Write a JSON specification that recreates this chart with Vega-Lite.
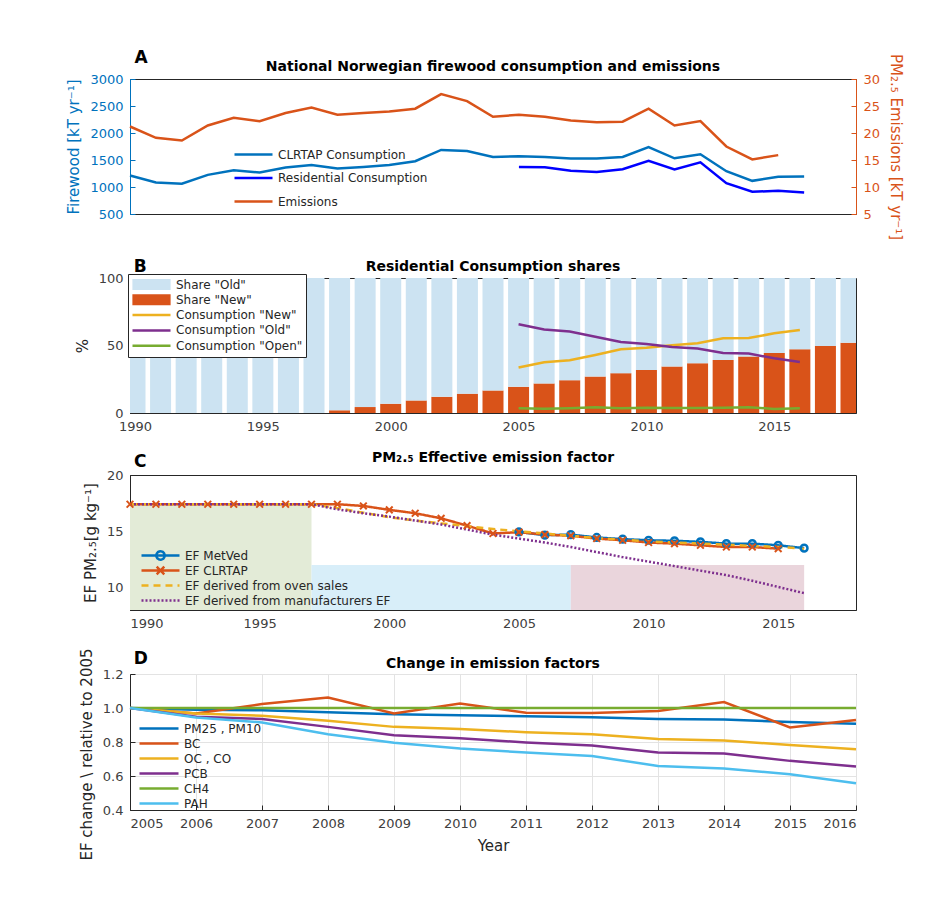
{
  "$schema": "https://vega.github.io/schema/vega-lite/v6.json",
  "background": "white",
  "padding": {"left": 66, "top": 48, "right": 16, "bottom": 10},
  "spacing": 16,
  "config": {
    "font": "DejaVu Sans",
    "view": {"stroke": "#262626", "strokeWidth": 1},
    "axis": {"labelFont": "DejaVu Sans", "labelFontSize": 13, "labelColor": "#404040", "titleFont": "DejaVu Sans", "titleFontSize": 15, "titleFontWeight": "normal", "titleColor": "#262626", "domainColor": "#262626", "tickColor": "#262626", "grid": false, "tickSize": -5, "labelPadding": 12, "titlePadding": 8},
    "title": {"font": "DejaVu Sans", "fontSize": 14, "fontWeight": "bold", "color": "#000000", "offset": 5},
    "legend": {"labelFont": "DejaVu Sans", "labelFontSize": 12, "labelColor": "#262626", "symbolType": "stroke", "symbolStrokeWidth": 2.5, "labelLimit": 400, "clipHeight": 15}
  },
  "datasets": {
    "A_fw": [
      {"year": 1990, "series": "CLRTAP Consumption", "value": 1213},
      {"year": 1991, "series": "CLRTAP Consumption", "value": 1084},
      {"year": 1992, "series": "CLRTAP Consumption", "value": 1062},
      {"year": 1993, "series": "CLRTAP Consumption", "value": 1225},
      {"year": 1994, "series": "CLRTAP Consumption", "value": 1311},
      {"year": 1995, "series": "CLRTAP Consumption", "value": 1268},
      {"year": 1996, "series": "CLRTAP Consumption", "value": 1360},
      {"year": 1997, "series": "CLRTAP Consumption", "value": 1409},
      {"year": 1998, "series": "CLRTAP Consumption", "value": 1342},
      {"year": 1999, "series": "CLRTAP Consumption", "value": 1372},
      {"year": 2000, "series": "CLRTAP Consumption", "value": 1409},
      {"year": 2001, "series": "CLRTAP Consumption", "value": 1477},
      {"year": 2002, "series": "CLRTAP Consumption", "value": 1686},
      {"year": 2003, "series": "CLRTAP Consumption", "value": 1667},
      {"year": 2004, "series": "CLRTAP Consumption", "value": 1557},
      {"year": 2005, "series": "CLRTAP Consumption", "value": 1569},
      {"year": 2006, "series": "CLRTAP Consumption", "value": 1557},
      {"year": 2007, "series": "CLRTAP Consumption", "value": 1526},
      {"year": 2008, "series": "CLRTAP Consumption", "value": 1526},
      {"year": 2009, "series": "CLRTAP Consumption", "value": 1557},
      {"year": 2010, "series": "CLRTAP Consumption", "value": 1741},
      {"year": 2011, "series": "CLRTAP Consumption", "value": 1532},
      {"year": 2012, "series": "CLRTAP Consumption", "value": 1606},
      {"year": 2013, "series": "CLRTAP Consumption", "value": 1292},
      {"year": 2014, "series": "CLRTAP Consumption", "value": 1114},
      {"year": 2015, "series": "CLRTAP Consumption", "value": 1188},
      {"year": 2016, "series": "CLRTAP Consumption", "value": 1196},
      {"year": 2005, "series": "Residential Consumption", "value": 1372},
      {"year": 2006, "series": "Residential Consumption", "value": 1366},
      {"year": 2007, "series": "Residential Consumption", "value": 1299},
      {"year": 2008, "series": "Residential Consumption", "value": 1280},
      {"year": 2009, "series": "Residential Consumption", "value": 1329},
      {"year": 2010, "series": "Residential Consumption", "value": 1483},
      {"year": 2011, "series": "Residential Consumption", "value": 1323},
      {"year": 2012, "series": "Residential Consumption", "value": 1458},
      {"year": 2013, "series": "Residential Consumption", "value": 1071},
      {"year": 2014, "series": "Residential Consumption", "value": 912},
      {"year": 2015, "series": "Residential Consumption", "value": 930},
      {"year": 2016, "series": "Residential Consumption", "value": 900}
    ],
    "A_em": [
      {"year": 1990, "series": "Emissions", "value": 21.2},
      {"year": 1991, "series": "Emissions", "value": 19.1},
      {"year": 1992, "series": "Emissions", "value": 18.6},
      {"year": 1993, "series": "Emissions", "value": 21.4},
      {"year": 1994, "series": "Emissions", "value": 22.8},
      {"year": 1995, "series": "Emissions", "value": 22.2},
      {"year": 1996, "series": "Emissions", "value": 23.7},
      {"year": 1997, "series": "Emissions", "value": 24.7},
      {"year": 1998, "series": "Emissions", "value": 23.4},
      {"year": 1999, "series": "Emissions", "value": 23.7},
      {"year": 2000, "series": "Emissions", "value": 24.0},
      {"year": 2001, "series": "Emissions", "value": 24.5},
      {"year": 2002, "series": "Emissions", "value": 27.2},
      {"year": 2003, "series": "Emissions", "value": 25.9},
      {"year": 2004, "series": "Emissions", "value": 23.0},
      {"year": 2005, "series": "Emissions", "value": 23.4},
      {"year": 2006, "series": "Emissions", "value": 23.0},
      {"year": 2007, "series": "Emissions", "value": 22.3},
      {"year": 2008, "series": "Emissions", "value": 22.0},
      {"year": 2009, "series": "Emissions", "value": 22.1},
      {"year": 2010, "series": "Emissions", "value": 24.5},
      {"year": 2011, "series": "Emissions", "value": 21.4},
      {"year": 2012, "series": "Emissions", "value": 22.2},
      {"year": 2013, "series": "Emissions", "value": 17.5},
      {"year": 2014, "series": "Emissions", "value": 15.1},
      {"year": 2015, "series": "Emissions", "value": 15.9}
    ],
    "B_bar": [
      {"year": 1990, "series": "Share \"New\"", "pct": 0}, {"year": 1990, "series": "Share \"Old\"", "pct": 100},
      {"year": 1991, "series": "Share \"New\"", "pct": 0}, {"year": 1991, "series": "Share \"Old\"", "pct": 100},
      {"year": 1992, "series": "Share \"New\"", "pct": 0}, {"year": 1992, "series": "Share \"Old\"", "pct": 100},
      {"year": 1993, "series": "Share \"New\"", "pct": 0}, {"year": 1993, "series": "Share \"Old\"", "pct": 100},
      {"year": 1994, "series": "Share \"New\"", "pct": 0}, {"year": 1994, "series": "Share \"Old\"", "pct": 100},
      {"year": 1995, "series": "Share \"New\"", "pct": 0}, {"year": 1995, "series": "Share \"Old\"", "pct": 100},
      {"year": 1996, "series": "Share \"New\"", "pct": 0}, {"year": 1996, "series": "Share \"Old\"", "pct": 100},
      {"year": 1997, "series": "Share \"New\"", "pct": 0}, {"year": 1997, "series": "Share \"Old\"", "pct": 100},
      {"year": 1998, "series": "Share \"New\"", "pct": 2.0}, {"year": 1998, "series": "Share \"Old\"", "pct": 98.0},
      {"year": 1999, "series": "Share \"New\"", "pct": 4.4}, {"year": 1999, "series": "Share \"Old\"", "pct": 95.6},
      {"year": 2000, "series": "Share \"New\"", "pct": 6.9}, {"year": 2000, "series": "Share \"Old\"", "pct": 93.1},
      {"year": 2001, "series": "Share \"New\"", "pct": 9.3}, {"year": 2001, "series": "Share \"Old\"", "pct": 90.7},
      {"year": 2002, "series": "Share \"New\"", "pct": 12.0}, {"year": 2002, "series": "Share \"Old\"", "pct": 88.0},
      {"year": 2003, "series": "Share \"New\"", "pct": 14.3}, {"year": 2003, "series": "Share \"Old\"", "pct": 85.7},
      {"year": 2004, "series": "Share \"New\"", "pct": 16.7}, {"year": 2004, "series": "Share \"Old\"", "pct": 83.3},
      {"year": 2005, "series": "Share \"New\"", "pct": 19.4}, {"year": 2005, "series": "Share \"Old\"", "pct": 80.6},
      {"year": 2006, "series": "Share \"New\"", "pct": 21.9}, {"year": 2006, "series": "Share \"Old\"", "pct": 78.1},
      {"year": 2007, "series": "Share \"New\"", "pct": 24.3}, {"year": 2007, "series": "Share \"Old\"", "pct": 75.7},
      {"year": 2008, "series": "Share \"New\"", "pct": 27.0}, {"year": 2008, "series": "Share \"Old\"", "pct": 73.0},
      {"year": 2009, "series": "Share \"New\"", "pct": 29.5}, {"year": 2009, "series": "Share \"Old\"", "pct": 70.5},
      {"year": 2010, "series": "Share \"New\"", "pct": 31.9}, {"year": 2010, "series": "Share \"Old\"", "pct": 68.1},
      {"year": 2011, "series": "Share \"New\"", "pct": 34.4}, {"year": 2011, "series": "Share \"Old\"", "pct": 65.6},
      {"year": 2012, "series": "Share \"New\"", "pct": 36.9}, {"year": 2012, "series": "Share \"Old\"", "pct": 63.1},
      {"year": 2013, "series": "Share \"New\"", "pct": 39.3}, {"year": 2013, "series": "Share \"Old\"", "pct": 60.7},
      {"year": 2014, "series": "Share \"New\"", "pct": 41.8}, {"year": 2014, "series": "Share \"Old\"", "pct": 58.2},
      {"year": 2015, "series": "Share \"New\"", "pct": 44.5}, {"year": 2015, "series": "Share \"Old\"", "pct": 55.5},
      {"year": 2016, "series": "Share \"New\"", "pct": 47.2}, {"year": 2016, "series": "Share \"Old\"", "pct": 52.8},
      {"year": 2017, "series": "Share \"New\"", "pct": 49.6}, {"year": 2017, "series": "Share \"Old\"", "pct": 50.4},
      {"year": 2018, "series": "Share \"New\"", "pct": 52.1}, {"year": 2018, "series": "Share \"Old\"", "pct": 47.9}
    ],
    "B_line": [
      {"year": 2005, "series": "Consumption \"New\"", "pct": 33.7},
      {"year": 2006, "series": "Consumption \"New\"", "pct": 37.6},
      {"year": 2007, "series": "Consumption \"New\"", "pct": 39.1},
      {"year": 2008, "series": "Consumption \"New\"", "pct": 43.0},
      {"year": 2009, "series": "Consumption \"New\"", "pct": 47.2},
      {"year": 2010, "series": "Consumption \"New\"", "pct": 48.4},
      {"year": 2011, "series": "Consumption \"New\"", "pct": 50.1},
      {"year": 2012, "series": "Consumption \"New\"", "pct": 51.6},
      {"year": 2013, "series": "Consumption \"New\"", "pct": 55.3},
      {"year": 2014, "series": "Consumption \"New\"", "pct": 55.5},
      {"year": 2015, "series": "Consumption \"New\"", "pct": 59.0},
      {"year": 2016, "series": "Consumption \"New\"", "pct": 61.4},
      {"year": 2005, "series": "Consumption \"Old\"", "pct": 65.8},
      {"year": 2006, "series": "Consumption \"Old\"", "pct": 61.9},
      {"year": 2007, "series": "Consumption \"Old\"", "pct": 60.4},
      {"year": 2008, "series": "Consumption \"Old\"", "pct": 56.5},
      {"year": 2009, "series": "Consumption \"Old\"", "pct": 52.6},
      {"year": 2010, "series": "Consumption \"Old\"", "pct": 51.1},
      {"year": 2011, "series": "Consumption \"Old\"", "pct": 48.9},
      {"year": 2012, "series": "Consumption \"Old\"", "pct": 47.7},
      {"year": 2013, "series": "Consumption \"Old\"", "pct": 44.5},
      {"year": 2014, "series": "Consumption \"Old\"", "pct": 44.0},
      {"year": 2015, "series": "Consumption \"Old\"", "pct": 40.5},
      {"year": 2016, "series": "Consumption \"Old\"", "pct": 37.8},
      {"year": 2005, "series": "Consumption \"Open\"", "pct": 3.5},
      {"year": 2006, "series": "Consumption \"Open\"", "pct": 3.2},
      {"year": 2007, "series": "Consumption \"Open\"", "pct": 3.6},
      {"year": 2008, "series": "Consumption \"Open\"", "pct": 4.2},
      {"year": 2009, "series": "Consumption \"Open\"", "pct": 3.6},
      {"year": 2010, "series": "Consumption \"Open\"", "pct": 3.9},
      {"year": 2011, "series": "Consumption \"Open\"", "pct": 3.7},
      {"year": 2012, "series": "Consumption \"Open\"", "pct": 3.7},
      {"year": 2013, "series": "Consumption \"Open\"", "pct": 3.8},
      {"year": 2014, "series": "Consumption \"Open\"", "pct": 4.3},
      {"year": 2015, "series": "Consumption \"Open\"", "pct": 3.0},
      {"year": 2016, "series": "Consumption \"Open\"", "pct": 3.5}
    ],
    "C_bg": [
      {"x1": 1990, "x2": 1997, "y1": 8, "y2": 17.4, "zone": "green"},
      {"x1": 1997, "x2": 2007, "y1": 8, "y2": 12, "zone": "blue"},
      {"x1": 2007, "x2": 2016, "y1": 8, "y2": 12, "zone": "pink"}
    ],
    "C_ef": [
      {"year": 2005, "series": "EF MetVed", "ef": 14.94},
      {"year": 2006, "series": "EF MetVed", "ef": 14.65},
      {"year": 2007, "series": "EF MetVed", "ef": 14.7},
      {"year": 2008, "series": "EF MetVed", "ef": 14.45},
      {"year": 2009, "series": "EF MetVed", "ef": 14.3},
      {"year": 2010, "series": "EF MetVed", "ef": 14.2},
      {"year": 2011, "series": "EF MetVed", "ef": 14.15},
      {"year": 2012, "series": "EF MetVed", "ef": 14.06},
      {"year": 2013, "series": "EF MetVed", "ef": 13.9},
      {"year": 2014, "series": "EF MetVed", "ef": 13.9},
      {"year": 2015, "series": "EF MetVed", "ef": 13.75},
      {"year": 2016, "series": "EF MetVed", "ef": 13.5},
      {"year": 1990, "series": "EF CLRTAP", "ef": 17.4},
      {"year": 1991, "series": "EF CLRTAP", "ef": 17.4},
      {"year": 1992, "series": "EF CLRTAP", "ef": 17.4},
      {"year": 1993, "series": "EF CLRTAP", "ef": 17.4},
      {"year": 1994, "series": "EF CLRTAP", "ef": 17.4},
      {"year": 1995, "series": "EF CLRTAP", "ef": 17.4},
      {"year": 1996, "series": "EF CLRTAP", "ef": 17.4},
      {"year": 1997, "series": "EF CLRTAP", "ef": 17.4},
      {"year": 1998, "series": "EF CLRTAP", "ef": 17.4},
      {"year": 1999, "series": "EF CLRTAP", "ef": 17.25},
      {"year": 2000, "series": "EF CLRTAP", "ef": 16.9},
      {"year": 2001, "series": "EF CLRTAP", "ef": 16.6},
      {"year": 2002, "series": "EF CLRTAP", "ef": 16.15},
      {"year": 2003, "series": "EF CLRTAP", "ef": 15.5},
      {"year": 2004, "series": "EF CLRTAP", "ef": 14.8},
      {"year": 2005, "series": "EF CLRTAP", "ef": 14.92},
      {"year": 2006, "series": "EF CLRTAP", "ef": 14.7},
      {"year": 2007, "series": "EF CLRTAP", "ef": 14.6},
      {"year": 2008, "series": "EF CLRTAP", "ef": 14.35},
      {"year": 2009, "series": "EF CLRTAP", "ef": 14.2},
      {"year": 2010, "series": "EF CLRTAP", "ef": 14.0},
      {"year": 2011, "series": "EF CLRTAP", "ef": 13.9},
      {"year": 2012, "series": "EF CLRTAP", "ef": 13.75},
      {"year": 2013, "series": "EF CLRTAP", "ef": 13.6},
      {"year": 2014, "series": "EF CLRTAP", "ef": 13.6},
      {"year": 2015, "series": "EF CLRTAP", "ef": 13.45},
      {"year": 1990, "series": "EF derived from oven sales", "ef": 17.4},
      {"year": 1991, "series": "EF derived from oven sales", "ef": 17.4},
      {"year": 1992, "series": "EF derived from oven sales", "ef": 17.4},
      {"year": 1993, "series": "EF derived from oven sales", "ef": 17.4},
      {"year": 1994, "series": "EF derived from oven sales", "ef": 17.4},
      {"year": 1995, "series": "EF derived from oven sales", "ef": 17.4},
      {"year": 1996, "series": "EF derived from oven sales", "ef": 17.4},
      {"year": 1997, "series": "EF derived from oven sales", "ef": 17.4},
      {"year": 1998, "series": "EF derived from oven sales", "ef": 17.05},
      {"year": 1999, "series": "EF derived from oven sales", "ef": 16.65},
      {"year": 2000, "series": "EF derived from oven sales", "ef": 16.25},
      {"year": 2001, "series": "EF derived from oven sales", "ef": 15.95},
      {"year": 2002, "series": "EF derived from oven sales", "ef": 15.7},
      {"year": 2003, "series": "EF derived from oven sales", "ef": 15.45},
      {"year": 2004, "series": "EF derived from oven sales", "ef": 15.2},
      {"year": 2005, "series": "EF derived from oven sales", "ef": 15.0},
      {"year": 2006, "series": "EF derived from oven sales", "ef": 14.8},
      {"year": 2007, "series": "EF derived from oven sales", "ef": 14.6},
      {"year": 2008, "series": "EF derived from oven sales", "ef": 14.4},
      {"year": 2009, "series": "EF derived from oven sales", "ef": 14.25},
      {"year": 2010, "series": "EF derived from oven sales", "ef": 14.1},
      {"year": 2011, "series": "EF derived from oven sales", "ef": 14.0},
      {"year": 2012, "series": "EF derived from oven sales", "ef": 13.9},
      {"year": 2013, "series": "EF derived from oven sales", "ef": 13.8},
      {"year": 2014, "series": "EF derived from oven sales", "ef": 13.7},
      {"year": 2015, "series": "EF derived from oven sales", "ef": 13.6},
      {"year": 2016, "series": "EF derived from oven sales", "ef": 13.45},
      {"year": 1990, "series": "EF derived from manufacturers EF", "ef": 17.4},
      {"year": 1991, "series": "EF derived from manufacturers EF", "ef": 17.4},
      {"year": 1992, "series": "EF derived from manufacturers EF", "ef": 17.4},
      {"year": 1993, "series": "EF derived from manufacturers EF", "ef": 17.4},
      {"year": 1994, "series": "EF derived from manufacturers EF", "ef": 17.4},
      {"year": 1995, "series": "EF derived from manufacturers EF", "ef": 17.4},
      {"year": 1996, "series": "EF derived from manufacturers EF", "ef": 17.4},
      {"year": 1997, "series": "EF derived from manufacturers EF", "ef": 17.4},
      {"year": 1998, "series": "EF derived from manufacturers EF", "ef": 16.95},
      {"year": 1999, "series": "EF derived from manufacturers EF", "ef": 16.6},
      {"year": 2000, "series": "EF derived from manufacturers EF", "ef": 16.3},
      {"year": 2001, "series": "EF derived from manufacturers EF", "ef": 15.95},
      {"year": 2002, "series": "EF derived from manufacturers EF", "ef": 15.6},
      {"year": 2003, "series": "EF derived from manufacturers EF", "ef": 15.15},
      {"year": 2004, "series": "EF derived from manufacturers EF", "ef": 14.7},
      {"year": 2005, "series": "EF derived from manufacturers EF", "ef": 14.35},
      {"year": 2006, "series": "EF derived from manufacturers EF", "ef": 14.0},
      {"year": 2007, "series": "EF derived from manufacturers EF", "ef": 13.6},
      {"year": 2008, "series": "EF derived from manufacturers EF", "ef": 13.15},
      {"year": 2009, "series": "EF derived from manufacturers EF", "ef": 12.7},
      {"year": 2010, "series": "EF derived from manufacturers EF", "ef": 12.3},
      {"year": 2011, "series": "EF derived from manufacturers EF", "ef": 11.9},
      {"year": 2012, "series": "EF derived from manufacturers EF", "ef": 11.5},
      {"year": 2013, "series": "EF derived from manufacturers EF", "ef": 11.1},
      {"year": 2014, "series": "EF derived from manufacturers EF", "ef": 10.6},
      {"year": 2015, "series": "EF derived from manufacturers EF", "ef": 10.05},
      {"year": 2016, "series": "EF derived from manufacturers EF", "ef": 9.5}
    ],
    "D": [
      {"year": 2005, "series": "PM25 , PM10", "v": 1.0}, {"year": 2006, "series": "PM25 , PM10", "v": 0.99}, {"year": 2007, "series": "PM25 , PM10", "v": 0.987}, {"year": 2008, "series": "PM25 , PM10", "v": 0.975}, {"year": 2009, "series": "PM25 , PM10", "v": 0.963}, {"year": 2010, "series": "PM25 , PM10", "v": 0.958}, {"year": 2011, "series": "PM25 , PM10", "v": 0.952}, {"year": 2012, "series": "PM25 , PM10", "v": 0.946}, {"year": 2013, "series": "PM25 , PM10", "v": 0.936}, {"year": 2014, "series": "PM25 , PM10", "v": 0.932}, {"year": 2015, "series": "PM25 , PM10", "v": 0.918}, {"year": 2016, "series": "PM25 , PM10", "v": 0.908},
      {"year": 2005, "series": "BC", "v": 1.0}, {"year": 2006, "series": "BC", "v": 0.968}, {"year": 2007, "series": "BC", "v": 1.023}, {"year": 2008, "series": "BC", "v": 1.062}, {"year": 2009, "series": "BC", "v": 0.968}, {"year": 2010, "series": "BC", "v": 1.027}, {"year": 2011, "series": "BC", "v": 0.972}, {"year": 2012, "series": "BC", "v": 0.97}, {"year": 2013, "series": "BC", "v": 0.982}, {"year": 2014, "series": "BC", "v": 1.035}, {"year": 2015, "series": "BC", "v": 0.886}, {"year": 2016, "series": "BC", "v": 0.929},
      {"year": 2005, "series": "OC , CO", "v": 1.0}, {"year": 2006, "series": "OC , CO", "v": 0.968}, {"year": 2007, "series": "OC , CO", "v": 0.954}, {"year": 2008, "series": "OC , CO", "v": 0.925}, {"year": 2009, "series": "OC , CO", "v": 0.889}, {"year": 2010, "series": "OC , CO", "v": 0.876}, {"year": 2011, "series": "OC , CO", "v": 0.858}, {"year": 2012, "series": "OC , CO", "v": 0.846}, {"year": 2013, "series": "OC , CO", "v": 0.817}, {"year": 2014, "series": "OC , CO", "v": 0.809}, {"year": 2015, "series": "OC , CO", "v": 0.783}, {"year": 2016, "series": "OC , CO", "v": 0.758},
      {"year": 2005, "series": "PCB", "v": 1.0}, {"year": 2006, "series": "PCB", "v": 0.948}, {"year": 2007, "series": "PCB", "v": 0.935}, {"year": 2008, "series": "PCB", "v": 0.889}, {"year": 2009, "series": "PCB", "v": 0.84}, {"year": 2010, "series": "PCB", "v": 0.822}, {"year": 2011, "series": "PCB", "v": 0.797}, {"year": 2012, "series": "PCB", "v": 0.779}, {"year": 2013, "series": "PCB", "v": 0.738}, {"year": 2014, "series": "PCB", "v": 0.732}, {"year": 2015, "series": "PCB", "v": 0.689}, {"year": 2016, "series": "PCB", "v": 0.656},
      {"year": 2005, "series": "CH4", "v": 1.0}, {"year": 2006, "series": "CH4", "v": 1.0}, {"year": 2007, "series": "CH4", "v": 1.0}, {"year": 2008, "series": "CH4", "v": 1.0}, {"year": 2009, "series": "CH4", "v": 1.0}, {"year": 2010, "series": "CH4", "v": 1.0}, {"year": 2011, "series": "CH4", "v": 1.0}, {"year": 2012, "series": "CH4", "v": 1.0}, {"year": 2013, "series": "CH4", "v": 1.0}, {"year": 2014, "series": "CH4", "v": 1.0}, {"year": 2015, "series": "CH4", "v": 1.0}, {"year": 2016, "series": "CH4", "v": 1.0},
      {"year": 2005, "series": "PAH", "v": 1.0}, {"year": 2006, "series": "PAH", "v": 0.944}, {"year": 2007, "series": "PAH", "v": 0.915}, {"year": 2008, "series": "PAH", "v": 0.846}, {"year": 2009, "series": "PAH", "v": 0.795}, {"year": 2010, "series": "PAH", "v": 0.762}, {"year": 2011, "series": "PAH", "v": 0.738}, {"year": 2012, "series": "PAH", "v": 0.718}, {"year": 2013, "series": "PAH", "v": 0.659}, {"year": 2014, "series": "PAH", "v": 0.644}, {"year": 2015, "series": "PAH", "v": 0.61}, {"year": 2016, "series": "PAH", "v": 0.557}
    ]
  },
  "resolve": {"scale": {"color": "independent", "fill": "independent", "strokeDash": "independent"}, "legend": {"color": "independent"}},
  "vconcat": [
    {
      "title": {"text": "A", "anchor": "start", "fontSize": 17, "offset": -14, "dx": 68},
      "vconcat": [{
        "width": 726, "height": 135,
        "title": {"text": "National Norwegian firewood consumption and emissions", "offset": -21},
        "layer": [
          {
            "data": {"name": "A_fw"},
            "mark": {"type": "line", "strokeWidth": 2.5},
            "encoding": {
              "x": {"field": "year", "type": "quantitative", "scale": {"domain": [1990, 2018], "nice": false}, "axis": {"title": null, "values": [1990, 1995, 2000, 2005, 2010, 2015], "format": "d"}},
              "y": {"field": "value", "type": "quantitative", "scale": {"domain": [500, 3000], "nice": false}, "axis": {"orient": "left", "values": [500, 1000, 1500, 2000, 2500, 3000], "format": "d", "title": "Firewood [kT yr⁻¹]", "titleColor": "#0072BD", "labelColor": "#0072BD", "domainColor": "#0072BD", "tickColor": "#0072BD"}},
              "color": {"field": "series", "type": "nominal", "scale": {"domain": ["CLRTAP Consumption", "Residential Consumption", "Emissions"], "range": ["#0072BD", "#0000FF", "#D95319"]},
                "legend": {"title": null, "orient": "none", "legendX": 103, "legendY": 68, "symbolSize": 1444, "rowPadding": 8.5}}
            }
          },
          {
            "data": {"name": "A_em"},
            "mark": {"type": "line", "strokeWidth": 2.5},
            "encoding": {
              "x": {"field": "year", "type": "quantitative", "scale": {"domain": [1990, 2018], "nice": false}, "axis": null},
              "y": {"field": "value", "type": "quantitative", "scale": {"domain": [5, 30], "nice": false}, "axis": {"orient": "right", "values": [5, 10, 15, 20, 25, 30], "title": "PM₂.₅ Emissions [kT yr⁻¹]", "titleColor": "#D95319", "labelColor": "#D95319", "domainColor": "#D95319", "tickColor": "#D95319"}},
              "color": {"field": "series", "type": "nominal"}
            }
          }
        ],
        "resolve": {"scale": {"y": "independent"}}
      }]
    },
    {
      "title": {"text": "B", "anchor": "start", "fontSize": 17, "offset": -16, "dx": 59},
      "vconcat": [{
        "width": 726, "height": 135,
        "title": {"text": "Residential Consumption shares", "offset": -2},
        "layer": [
          {
            "data": {"name": "B_bar"},
            "mark": {"type": "bar", "width": 21, "clip": true},
            "encoding": {
              "x": {"field": "year", "type": "quantitative", "scale": {"domain": [1990, 2018], "nice": false}, "axis": {"title": null, "values": [1990, 1995, 2000, 2005, 2010, 2015], "format": "d"}},
              "y": {"field": "pct", "type": "quantitative", "stack": "zero", "scale": {"domain": [0, 100], "nice": false}, "axis": {"values": [0, 50, 100], "title": "%"}},
              "order": {"field": "series", "sort": "ascending"},
              "color": {"field": "series", "type": "nominal",
                "scale": {"domain": ["Share \"Old\"", "Share \"New\"", "Consumption \"New\"", "Consumption \"Old\"", "Consumption \"Open\""], "range": ["#cce3f2", "#D95319", "#EDB120", "#7E2F8E", "#77AC30"]},
                "legend": {"title": null, "orient": "none", "legendX": -2, "legendY": -4, "symbolType": "stroke", "symbolSize": 1444, "rowPadding": 0.3, "strokeColor": "#262626", "fillColor": "white", "padding": 3,
                  "encode": {"symbols": {"update": {
                    "shape": {"signal": "datum.index < 2 ? 'M-0.94,-0.22H0.94V0.22H-0.94Z' : 'stroke'"},
                    "fill": {"signal": "datum.index < 2 ? ['#cce3f2','#D95319'][datum.index] : 'transparent'"},
                    "stroke": {"signal": "['#cce3f2','#D95319','#EDB120','#7E2F8E','#77AC30'][datum.index]"},
                    "opacity": {"value": 1}}}}}}
            }
          },
          {
            "data": {"name": "B_line"},
            "mark": {"type": "line", "strokeWidth": 2.5},
            "encoding": {
              "x": {"field": "year", "type": "quantitative"},
              "y": {"field": "pct", "type": "quantitative"},
              "color": {"field": "series", "type": "nominal"}
            }
          }
        ]
      }]
    },
    {
      "title": {"text": "C", "anchor": "start", "fontSize": 17, "offset": -20, "dx": 51},
      "vconcat": [{
        "width": 726, "height": 135,
        "title": {"text": "PM₂.₅ Effective emission factor", "offset": 4},
        "layer": [
          {
            "data": {"name": "C_bg"},
            "mark": {"type": "rect"},
            "encoding": {
              "x": {"field": "x1", "type": "quantitative", "scale": {"domain": [1990, 2018], "nice": false}, "axis": {"title": null, "values": [1990, 1995, 2000, 2005, 2010, 2015], "format": "d"}},
              "x2": {"field": "x2"},
              "y": {"field": "y1", "type": "quantitative", "scale": {"domain": [8, 20], "nice": false}, "axis": {"values": [10, 15, 20], "title": "EF PM₂.₅[g kg⁻¹]"}},
              "y2": {"field": "y2"},
              "fill": {"field": "zone", "type": "nominal", "scale": {"domain": ["green", "blue", "pink"], "range": ["#e3ebd7", "#d8eef9", "#ead5dc"]}, "legend": null}
            }
          },
          {
            "data": {"name": "C_ef"},
            "mark": {"type": "line", "strokeWidth": 2.5},
            "encoding": {
              "x": {"field": "year", "type": "quantitative"},
              "y": {"field": "ef", "type": "quantitative"},
              "color": {"field": "series", "type": "nominal",
                "scale": {"domain": ["EF MetVed", "EF CLRTAP", "EF derived from oven sales", "EF derived from manufacturers EF"], "range": ["#0072BD", "#D95319", "#EDB120", "#7E2F8E"]},
                "legend": {"title": null, "orient": "none", "legendX": 10, "legendY": 73, "symbolSize": 1444, "rowPadding": 0,
                  "encode": {"symbols": {"update": {
                    "shape": {"signal": "['M-1,0H1M0.22,0A0.22,0.22 0 1,1 -0.22,0A0.22,0.22 0 1,1 0.22,0','M-1,0H1M-0.2,-0.2L0.2,0.2M-0.2,0.2L0.2,-0.2','M-1,0H1','M-1,0H1'][datum.index]"},
                    "fill": {"value": "transparent"},
                    "strokeDash": {"signal": "[[1,0],[1,0],[6,4],[2,2]][datum.index]"}}}}}},
              "strokeDash": {"field": "series", "type": "nominal", "scale": {"domain": ["EF MetVed", "EF CLRTAP", "EF derived from oven sales", "EF derived from manufacturers EF"], "range": [[1, 0], [1, 0], [7, 5], [2, 2]]}, "legend": null}
            }
          },
          {
            "data": {"name": "C_ef"},
            "transform": [{"filter": "datum.series == 'EF MetVed'"}],
            "mark": {"type": "point", "shape": "circle", "filled": false, "color": "#0072BD", "strokeWidth": 2.5, "size": 45, "opacity": 1},
            "encoding": {
              "x": {"field": "year", "type": "quantitative"},
              "y": {"field": "ef", "type": "quantitative"}
            }
          },
          {
            "data": {"name": "C_ef"},
            "transform": [{"filter": "datum.series == 'EF CLRTAP'"}],
            "mark": {"type": "point", "shape": "M-1,-1L1,1M-1,1L1,-1", "filled": false, "color": "#D95319", "strokeWidth": 2, "size": 45, "opacity": 1},
            "encoding": {
              "x": {"field": "year", "type": "quantitative"},
              "y": {"field": "ef", "type": "quantitative"}
            }
          }
        ]
      }]
    },
    {
      "title": {"text": "D", "anchor": "start", "fontSize": 17, "offset": -21, "dx": 55},
      "vconcat": [{
        "width": 726, "height": 136,
        "title": {"text": "Change in emission factors", "offset": -23},
        "data": {"name": "D"},
        "mark": {"type": "line", "strokeWidth": 2.5},
        "encoding": {
          "x": {"field": "year", "type": "quantitative", "scale": {"domain": [2005, 2016], "nice": false}, "axis": {"title": "Year", "values": [2005, 2006, 2007, 2008, 2009, 2010, 2011, 2012, 2013, 2014, 2015, 2016], "format": "d", "grid": true, "gridColor": "#e3e3e3"}},
          "y": {"field": "v", "type": "quantitative", "scale": {"domain": [0.4, 1.2], "nice": false}, "axis": {"values": [0.4, 0.6, 0.8, 1, 1.2], "title": "EF change \\ relative to 2005", "titleY": 80, "grid": true, "gridColor": "#e3e3e3"}},
          "color": {"field": "series", "type": "nominal",
            "scale": {"domain": ["PM25 , PM10", "BC", "OC , CO", "PCB", "CH4", "PAH"], "range": ["#0072BD", "#D95319", "#EDB120", "#7E2F8E", "#77AC30", "#4DBEEE"]},
            "legend": {"title": null, "orient": "none", "legendX": 8, "legendY": 47, "symbolSize": 1521, "rowPadding": -0.7}}
        }
      }]
    }
  ]
}
